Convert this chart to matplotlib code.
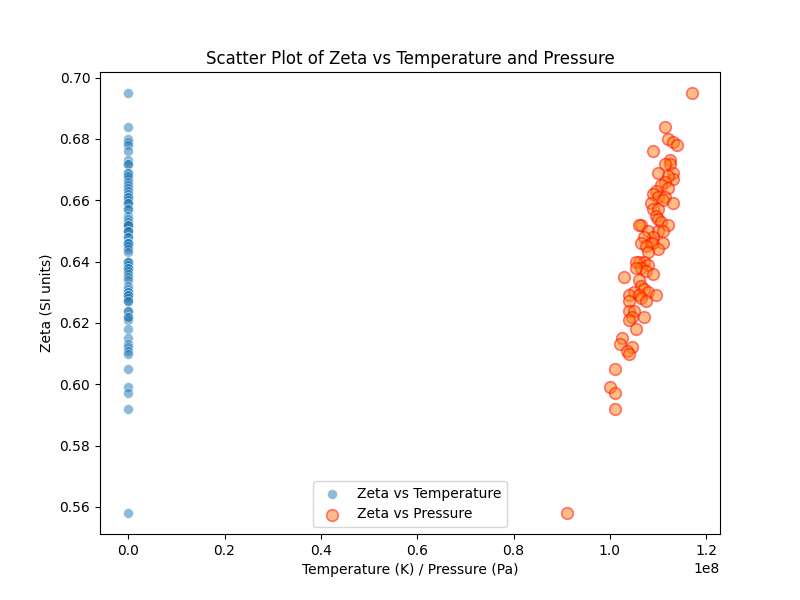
import matplotlib
matplotlib.use("Agg")
import matplotlib.pyplot as plt

# --- DATA ---
# pressure in units of 1e8 Pa
pressure_e8 = [1.17, 1.115, 1.12, 1.13, 1.14, 1.09, 1.125, 1.125, 1.115, 1.10,
               1.13, 1.13, 1.12, 1.115, 1.105, 1.12, 1.095, 1.09, 1.10, 1.115,
               1.11, 1.13, 1.085, 1.09, 1.10, 1.095, 1.10, 1.105, 1.12, 1.065,
               1.06, 1.08, 1.10, 1.11, 1.09, 1.07, 1.065, 1.085, 1.09, 1.11,
               1.075, 1.10, 1.08, 1.07, 1.06, 1.055, 1.08, 1.065, 1.055, 1.075,
               1.09, 1.03, 1.06, 1.065, 1.07, 1.05, 1.08, 1.04, 1.06, 1.095,
               1.065, 1.04, 1.075, 1.04, 1.05, 1.045, 1.04, 1.07, 1.055, 1.025,
               1.02, 1.045, 1.035, 1.04, 1.01, 1.00, 1.01, 1.01, 0.91]
zeta = [0.695, 0.684, 0.680, 0.679, 0.678, 0.676, 0.673, 0.672, 0.672, 0.669,
        0.669, 0.667, 0.668, 0.666, 0.665, 0.664, 0.663, 0.662, 0.661, 0.661,
        0.660, 0.659, 0.659, 0.657, 0.657, 0.655, 0.654, 0.653, 0.652, 0.652,
        0.652, 0.650, 0.650, 0.650, 0.648, 0.648, 0.646, 0.646, 0.646, 0.646,
        0.645, 0.644, 0.643, 0.640, 0.640, 0.640, 0.639, 0.638, 0.638, 0.637,
        0.636, 0.635, 0.634, 0.632, 0.631, 0.630, 0.630, 0.629, 0.629, 0.629,
        0.628, 0.627, 0.627, 0.624, 0.624, 0.622, 0.621, 0.622, 0.618, 0.615,
        0.613, 0.612, 0.611, 0.610, 0.605, 0.599, 0.597, 0.592, 0.558]
temperature = [300.0] * len(zeta)
pressure = [p * 1e8 for p in pressure_e8]

fig, ax = plt.subplots(figsize=(8, 6), dpi=100)

ax.scatter(temperature, zeta, s=50, alpha=0.5, color='tab:blue',
           edgecolors='white', linewidths=0.5, label='Zeta vs Temperature')
ax.scatter(pressure, zeta, s=70, alpha=0.5, color='#ff7f0e',
           edgecolors='red', linewidths=1.2, label='Zeta vs Pressure')

ax.set_title("Scatter Plot of Zeta vs Temperature and Pressure")
ax.set_xlabel("Temperature (K) / Pressure (Pa)")
ax.set_ylabel("Zeta (SI units)")
ax.legend(loc='lower center')

plt.savefig("out.png")
